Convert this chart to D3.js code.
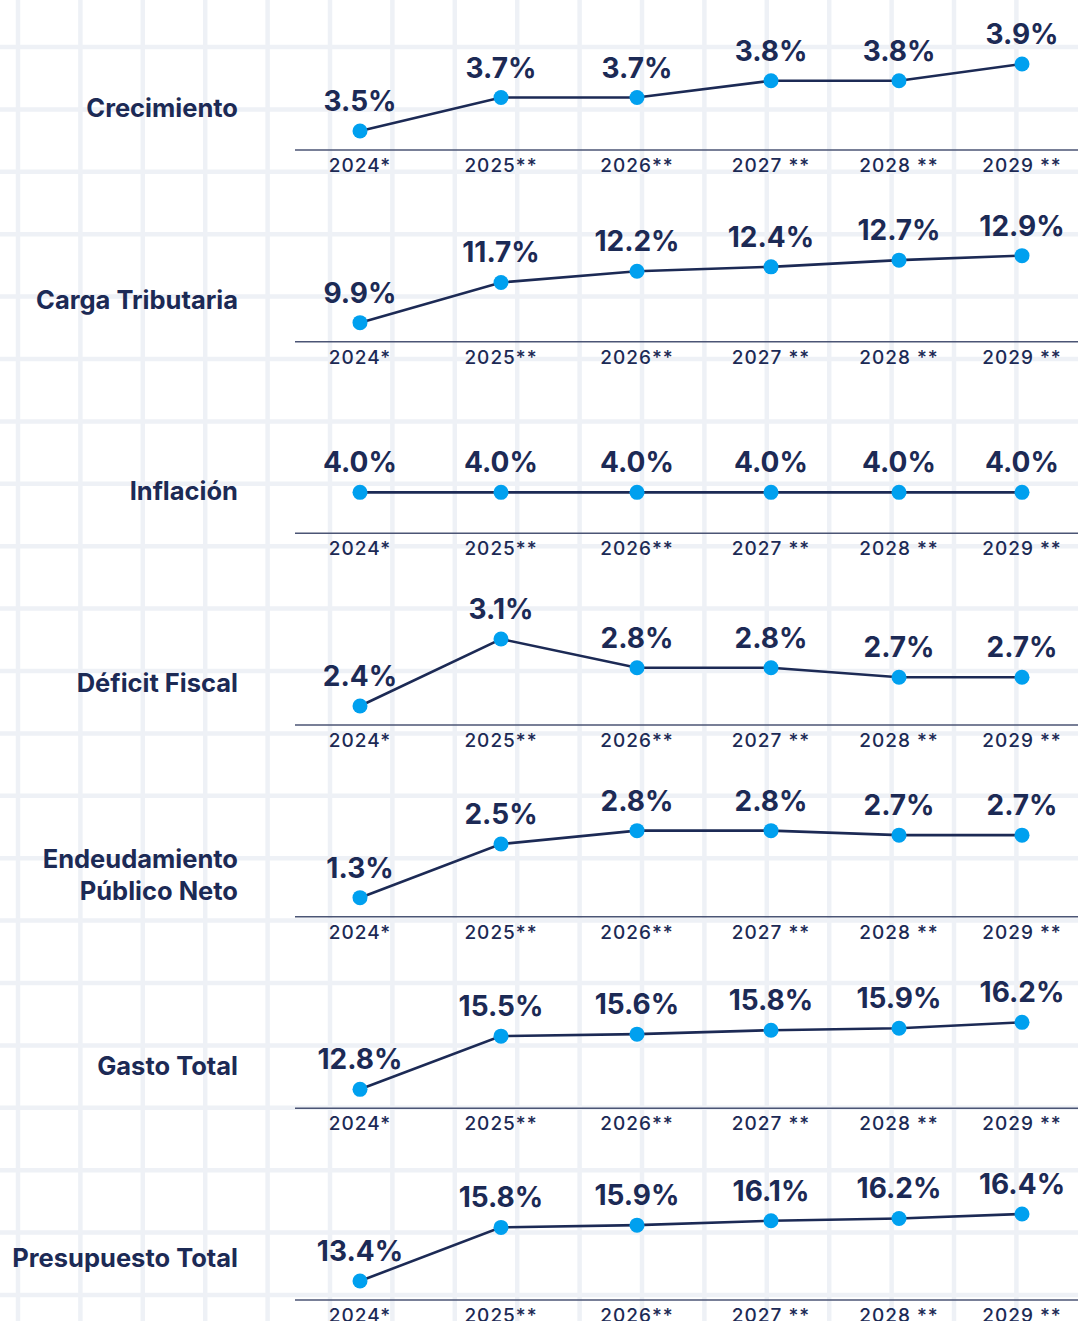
<!DOCTYPE html>
<html>
<head>
<meta charset="utf-8">
<script src="https://cdn.jsdelivr.net/npm/d3@7"></script>
<style>
  html, body { margin: 0; padding: 0; background: #fff; }
  svg { display: block; font-family: Inter, "Noto Sans", sans-serif; }
</style>
</head>
<body>
<div id="chart"></div>
<script>
// indicadores y años
const indicators = ["Crecimiento", "Carga Tributaria", "Inflación", "Déficit Fiscal",
  "Endeudamiento Público Neto", "Gasto Total", "Presupuesto Total"]
const years = ["2024*", "2025**", "2026**", "2027 **", "2028 **", "2029 **"]

const crecimiento = [3.5, 3.7, 3.7, 3.8, 3.8, 3.9]
const cargaTributaria = [9.9, 11.7, 12.2, 12.4, 12.7, 12.9]
const inflacion = [4.0, 4.0, 4.0, 4.0, 4.0, 4.0]
const deficitFiscal = [2.4, 3.1, 2.8, 2.8, 2.7, 2.7]
const endeudamiento = [1.3, 2.5, 2.8, 2.8, 2.7, 2.7]
const gastoTotal = [12.8, 15.5, 15.6, 15.8, 15.9, 16.2]
const presupuestoTotal = [13.4, 15.8, 15.9, 16.1, 16.2, 16.4]

const series = [crecimiento, cargaTributaria, inflacion, deficitFiscal,
  endeudamiento, gastoTotal, presupuestoTotal]

const width = 1078, height = 1321
const navy = "#1c2a55"
const blue = "#00a0ef"

const svg = d3.select("#chart").append("svg")
  .attr("width", width)
  .attr("height", height)

// fondo cuadriculado
const grid = svg.append("g").attr("stroke", "#eef1f6").attr("stroke-width", 4.5)
grid.selectAll("line.v").data(d3.range(18, width, 62.4)).join("line")
  .attr("class", "v")
  .attr("x1", d => d).attr("x2", d => d)
  .attr("y1", 0).attr("y2", height)
grid.selectAll("line.h").data(d3.range(47 - 62.4, height, 62.4)).join("line")
  .attr("class", "h")
  .attr("y1", d => d).attr("y2", d => d)
  .attr("x1", 0).attr("x2", width)

const x = d3.scaleOrdinal()
  .domain(years)
  .range([360, 501, 637, 771, 899, 1022])

const rowY = d3.scalePoint()
  .domain(indicators)
  .range([150, 1300])

const line = d3.line()

for (let i = 0; i < indicators.length; i++) {
  let name = indicators[i]
  let values = series[i]
  let axisY = rowY(name)
  let g = svg.append("g")

  let ext = d3.extent(values)
  if (ext[0] == ext[1]) ext = [ext[0], ext[0] + 2]
  let y = d3.scaleLinear()
    .domain(ext)
    .range([axisY - 41, axisY - 86])
  if (d3.extent(values)[0] != d3.extent(values)[1]) y.range([axisY - 19, axisY - 86])

  // eje
  g.append("line")
    .attr("x1", 295).attr("x2", width)
    .attr("y1", axisY).attr("y2", axisY)
    .attr("stroke", "#4b5575")
    .attr("stroke-width", 1.5)

  g.selectAll("text.year").data(years).join("text")
    .attr("class", "year")
    .attr("x", d => x(d))
    .attr("y", axisY + 22)
    .attr("text-anchor", "middle")
    .attr("fill", navy)
    .style("font-size", "19px")
    .style("font-weight", 500)
    .style("letter-spacing", "1px")
    .text(d => d)

  // etiqueta de la fila
  let words = name == "Endeudamiento Público Neto" ? ["Endeudamiento", "Público Neto"] : [name]
  let label = g.append("text")
    .attr("x", 238)
    .attr("y", axisY - 42 - (words.length - 1) * 16)
    .attr("text-anchor", "end")
    .attr("fill", navy)
    .style("font-size", "25.5px")
    .style("font-weight", 700)
  words.forEach((w, k) => {
    label.append("tspan")
      .attr("x", 238)
      .attr("dy", k == 0 ? "0.35em" : "32px")
      .text(w)
  })

  let pts = values.map((v, k) => [x(years[k]), y(v)])

  g.append("path")
    .attr("d", line(pts))
    .attr("fill", "none")
    .attr("stroke", navy)
    .attr("stroke-width", 2.6)

  g.selectAll("circle").data(values).join("circle")
    .attr("cx", (d, k) => x(years[k]))
    .attr("cy", d => y(d))
    .attr("r", 7.5)
    .attr("fill", blue)

  g.selectAll("text.val").data(values).join("text")
    .attr("class", "val")
    .attr("x", (d, k) => x(years[k]))
    .attr("y", d => y(d) - 20)
    .attr("text-anchor", "middle")
    .attr("fill", navy)
    .style("font-size", "28px")
    .style("font-weight", 700)
    .text(d => d.toFixed(1) + "%")
}
</script>
</body>
</html>
